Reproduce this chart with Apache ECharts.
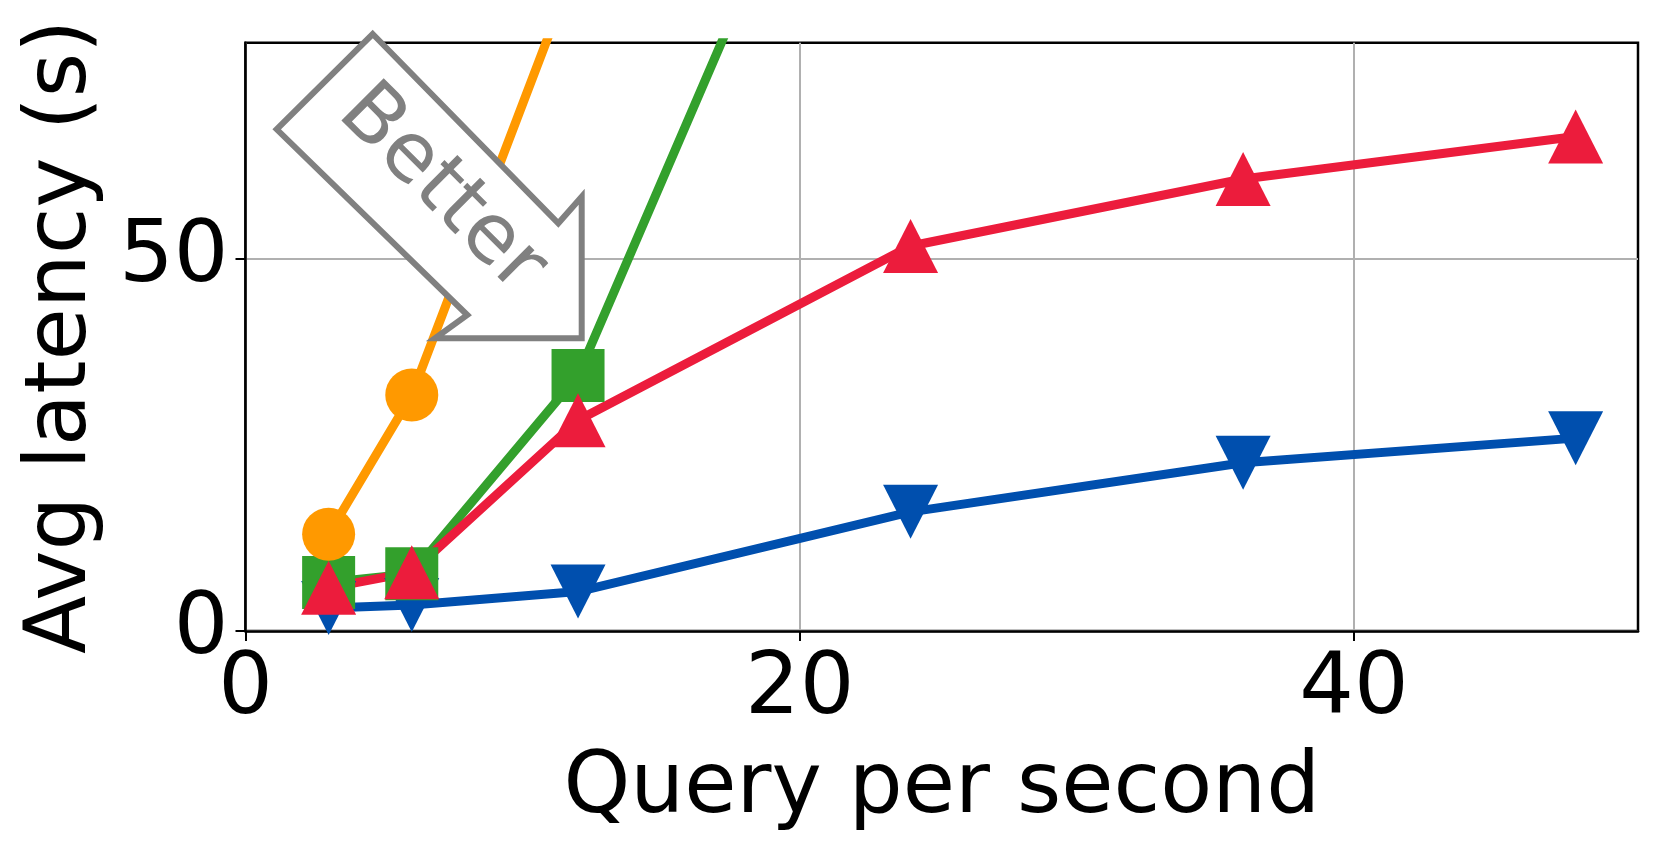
<!DOCTYPE html>
<html>
<head>
<meta charset="utf-8">
<script src="https://cdn.jsdelivr.net/npm/echarts@6/dist/echarts.min.js"></script>
<style>
  html, body { margin: 0; padding: 0; background: #fff; }
  #chart { width: 1661px; height: 851px; }
</style>
</head>
<body>
<div id="chart"></div>
<script>
// query rate (x) shared by all systems
const qps = [3, 6, 12, 24, 36, 48];

// average latency in seconds
const latencyOrange = [13.0, 31.7, 90.3];
const latencyGreen = [6.5, 7.7, 34.3, 138];
const latencyRed = [5.8, 7.9, 28.3, 51.7, 60.7, 66.4];
const latencyBlue = [3.1, 3.5, 5.3, 16.0, 22.6, 25.9];

const xTicks = [0, 20, 40];
const yTicks = [0, 50];

const FONT = "DejaVu Sans";

const pairs = (ys) => ys.map((y, i) => [qps[i], y]);

const lineSeries = (name, ys, color, symbol, size, rotate) => ({
    name: name,
    type: "line",
    data: pairs(ys),
    symbol: symbol,
    symbolSize: size,
    symbolRotate: rotate || 0,
    showSymbol: true,
    clip: true,
    lineStyle: { color: color, width: 9 },
    itemStyle: { color: color, borderWidth: 0 },
    emphasis: { disabled: true },
});

let option = {
    animation: false,
    backgroundColor: "#fff",
    textStyle: { fontFamily: FONT },
    grid: {
        left: 245.5,
        right: 23,
        top: 42.7,
        bottom: 220,
        show: true,
        borderColor: "#000",
        borderWidth: 2.5,
        backgroundColor: "transparent",
    },
    xAxis: {
        type: "value",
        min: 0,
        max: 50.25,
        interval: 20,
        name: "Query per second",
        nameLocation: "middle",
        nameGap: 116,
        nameTextStyle: { fontSize: 85, color: "#000", fontFamily: FONT },
        axisLine: { show: true, lineStyle: { color: "#000", width: 2.5 } },
        axisTick: {
            show: true,
            inside: false,
            length: 10,
            customValues: xTicks,
            lineStyle: { color: "#000", width: 2 },
        },
        axisLabel: {
            customValues: xTicks,
            fontSize: 86,
            color: "#000",
            margin: 17,
            fontFamily: FONT,
        },
        splitLine: { show: true, lineStyle: { color: "#b0b0b0", width: 2 } },
    },
    yAxis: {
        type: "value",
        min: 0,
        max: 79,
        interval: 50,
        name: "Avg latency (s)",
        nameLocation: "middle",
        nameGap: 140,
        nameTextStyle: { fontSize: 85, color: "#000", fontFamily: FONT },
        axisLine: { show: true, lineStyle: { color: "#000", width: 2.5 } },
        axisTick: {
            show: true,
            inside: false,
            length: 10,
            customValues: yTicks,
            lineStyle: { color: "#000", width: 2 },
        },
        axisLabel: {
            customValues: yTicks,
            fontSize: 86,
            color: "#000",
            margin: 17,
            fontFamily: FONT,
        },
        splitLine: { show: true, lineStyle: { color: "#b0b0b0", width: 2 } },
    },
    series: [
        lineSeries("Blue", latencyBlue, "#004fae", "triangle", [55, 54], 180),
        lineSeries("Green", latencyGreen, "#33a02c", "rect", [53, 53]),
        lineSeries("Red", latencyRed, "#ec1c3c", "triangle", [55, 54]),
        lineSeries("Orange", latencyOrange, "#ff9900", "circle", 53),
    ],
    graphic: [
        {
            type: "polygon",
            z: 100,
            shape: {
                points: [
                    [372.7, 34.0],
                    [558.3, 223.3],
                    [581.7, 196.7],
                    [581.7, 338.3],
                    [435.0, 338.3],
                    [467.3, 315.0],
                    [276.7, 129.3],
                ],
            },
            style: {
                fill: "#fff",
                stroke: "#808080",
                lineWidth: 6,
                lineJoin: "miter",
            },
        },
        {
            type: "text",
            z: 101,
            x: 441,
            y: 190,
            rotation: -Math.PI / 4,
            style: {
                text: "Better",
                fontSize: 82,
                fontFamily: FONT,
                fill: "#808080",
                align: "center",
                verticalAlign: "middle",
            },
        },
    ],
};

const chart = echarts.init(document.getElementById("chart"), null, { renderer: "canvas" });
chart.setOption(option);
</script>
</body>
</html>
